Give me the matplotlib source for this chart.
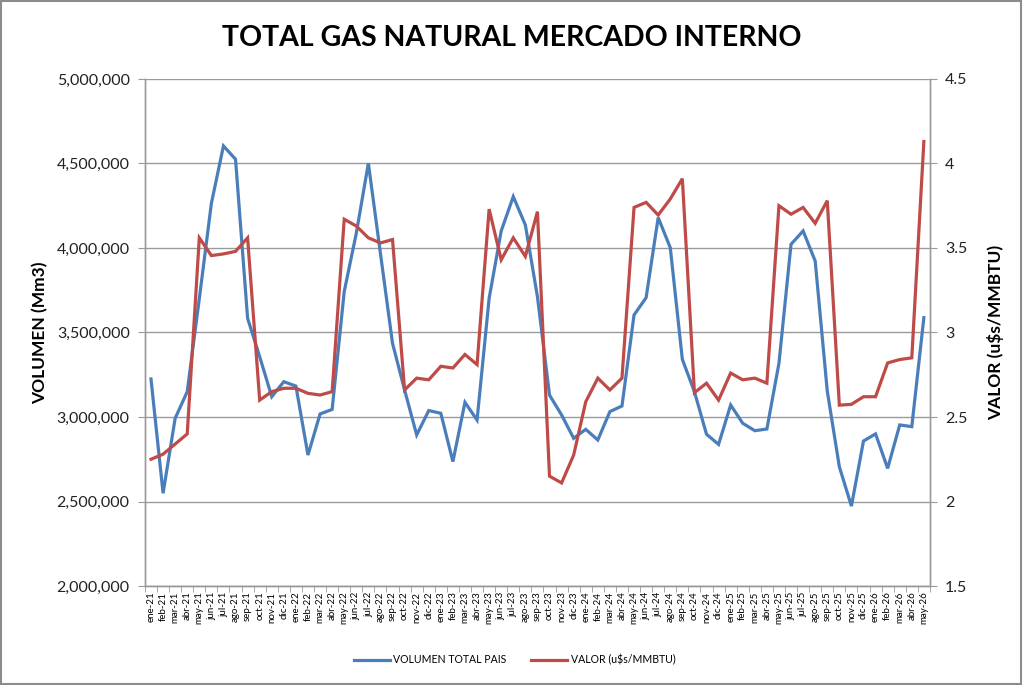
import matplotlib
matplotlib.use("Agg")
import matplotlib.pyplot as plt
from matplotlib.patches import Rectangle
from matplotlib.ticker import FuncFormatter, MultipleLocator

MESES = ["ene", "feb", "mar", "abr", "may", "jun",
         "jul", "ago", "sep", "oct", "nov", "dic"]
LABELS = [f"{MESES[k % 12]}-{21 + k // 12}" for k in range(65)]

VOLUMEN = [
    3225000, 2549000, 2992000, 3150000, 3700000, 4264000, 4604000, 4525000,
    3584000, 3357000, 3120000, 3209000, 3183000, 2775000, 3018000, 3045000,
    3742000, 4087000, 4501000, 3968000, 3436000, 3160000, 2894000, 3038000,
    3022000, 2736000, 3087000, 2982000, 3702000, 4101000, 4304000, 4136000,
    3712000, 3130000, 3012000, 2874000, 2927000, 2864000, 3032000, 3065000,
    3604000, 3706000, 4180000, 4002000, 3341000, 3150000, 2898000, 2838000,
    3071000, 2963000, 2919000, 2929000, 3318000, 4022000, 4101000, 3923000,
    3154000, 2706000, 2473000, 2858000, 2900000, 2696000, 2953000, 2943000,
    3588000,
]

VALOR = [
    2.25, 2.28, 2.34, 2.40, 3.56, 3.455, 3.465, 3.48,
    3.56, 2.60, 2.65, 2.67, 2.67, 2.64, 2.63, 2.65,
    3.67, 3.63, 3.56, 3.53, 3.55, 2.66, 2.73, 2.72,
    2.80, 2.79, 2.87, 2.81, 3.73, 3.43, 3.56, 3.45,
    3.715, 2.15, 2.11, 2.275, 2.59, 2.73, 2.66, 2.73,
    3.74, 3.77, 3.695, 3.79, 3.91, 2.644, 2.70, 2.60,
    2.76, 2.72, 2.73, 2.70, 3.75, 3.70, 3.74, 3.646,
    3.78, 2.57, 2.575, 2.62, 2.62, 2.82, 2.84, 2.85,
    4.13,
]

BLUE = "#4A7EBB"
RED = "#BE4B48"
GRID = "#9A9A9A"

plt.rcParams["font.family"] = ["Lato", "DejaVu Sans"]

fig = plt.figure(figsize=(10.23, 6.85), dpi=100)
ax = fig.add_axes([0.1417, 0.1445, 0.7673, 0.7402])
ax2 = ax.twinx()

x = list(range(len(LABELS)))
ax.plot(x, VOLUMEN, color=BLUE, linewidth=2.3, label="VOLUMEN TOTAL PAIS",
        solid_joinstyle="miter")
ax2.plot(x, VALOR, color=RED, linewidth=2.3, label="VALOR (u$s/MMBTU)",
         solid_joinstyle="miter")

ax.set_xlim(-0.5, len(LABELS) - 0.5)
ax.set_ylim(2000000, 5000000)
ax2.set_ylim(1.5, 4.5)
ax.yaxis.set_major_locator(MultipleLocator(500000))
ax2.yaxis.set_major_locator(MultipleLocator(0.5))
ax.yaxis.set_major_formatter(FuncFormatter(lambda v, p: f"{int(v):,}"))
ax2.yaxis.set_major_formatter(FuncFormatter(lambda v, p: f"{v:g}"))

ax.set_xticks(x)
ax.set_xticklabels(LABELS, rotation=90, fontsize=7)
ax.set_xticks([i - 0.5 for i in range(len(LABELS) + 1)], minor=True)
ax.tick_params(axis="x", which="major", length=0, pad=4)
ax.tick_params(axis="x", which="minor", length=4, color=GRID)
ax.tick_params(axis="y", length=5, color=GRID, labelsize=11.5, pad=6,
               labelcolor="#222222")
ax2.tick_params(axis="y", length=5, color=GRID, labelsize=11.5, pad=6,
                labelcolor="#222222")

ax.grid(axis="y", color=GRID, linewidth=1.0)
ax.set_axisbelow(True)
for a in (ax, ax2):
    a.spines["top"].set_visible(False)
    for s in ("left", "right", "bottom"):
        a.spines[s].set_color(GRID)
        a.spines[s].set_linewidth(1.0)

ax.set_ylabel("VOLUMEN (Mm3)", fontsize=12.5, fontweight="bold", labelpad=6)
ax2.set_ylabel("VALOR (u$s/MMBTU)", fontsize=12.5, fontweight="bold",
               labelpad=14)

fig.text(0.5, 0.944, "TOTAL GAS NATURAL MERCADO INTERNO", ha="center",
         va="center", fontsize=20.5, fontweight="bold")

h1, l1 = ax.get_legend_handles_labels()
h2, l2 = ax2.get_legend_handles_labels()
fig.legend(h1 + h2, l1 + l2, loc="center", bbox_to_anchor=(0.503, 0.037),
           ncol=2, frameon=False, fontsize=7.6, handlelength=3.4,
           handletextpad=0.3, columnspacing=2.4)

fig.patches.append(Rectangle((0.001, 0.001), 0.997, 0.997,
                             transform=fig.transFigure, fill=False,
                             edgecolor="#8C8C8C", linewidth=1.5))

fig.savefig("out.png", dpi=100)
